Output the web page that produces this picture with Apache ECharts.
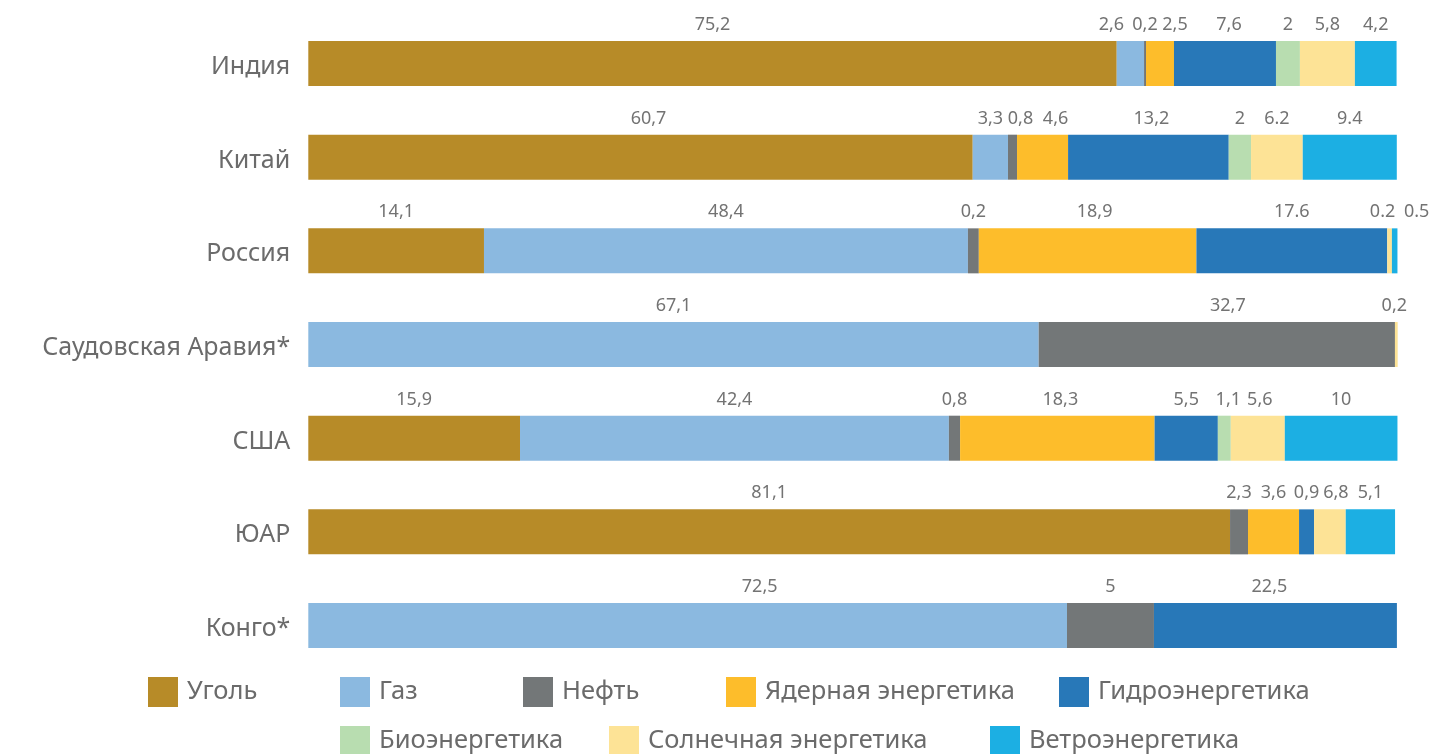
<!DOCTYPE html>
<html>
<head>
<meta charset="utf-8">
<script src="https://cdn.jsdelivr.net/npm/echarts@6/dist/echarts.min.js"></script>
<style>
html,body{margin:0;padding:0;background:#fff;}
#chart{width:1433px;height:754px;}
</style>
</head>
<body>
<div id="chart"></div>
<script>
// ---------- DATA ----------
const countries = ['Индия', 'Китай', 'Россия', 'Саудовская Аравия*', 'США', 'ЮАР', 'Конго*'];
const sources = ['Уголь', 'Газ', 'Нефть', 'Ядерная энергетика', 'Гидроэнергетика', 'Биоэнергетика', 'Солнечная энергетика', 'Ветроэнергетика'];

// bar lengths (share of the full bar, %)
const coal    = [74.27, 61.04, 16.14, null, 19.45, 84.68, null];
const gas     = [2.51, 3.24, 44.46, 67.10, 39.40, null, 69.70];
const oil     = [0.18, 0.83, 1.00, 32.73, 1.03, 1.65, 7.99];
const nuclear = [2.57, 4.69, 19.99, null, 17.87, 4.69, null];
const hydro   = [9.37, 14.76, 17.53, null, 5.81, 1.38, 22.32];
const bio     = [2.20, 2.05, null, null, 1.19, null, null];
const solar   = [5.05, 4.75, 0.43, 0.25, 4.96, 2.91, null];
const wind    = [3.83, 8.64, 0.51, null, 10.35, 4.53, null];

// printed value labels
const coalLbl    = ['75,2', '60,7', '14,1', null, '15,9', '81,1', null];
const gasLbl     = ['2,6', '3,3', '48,4', '67,1', '42,4', null, '72,5'];
const oilLbl     = ['0,2', '0,8', '0,2', '32,7', '0,8', '2,3', '5'];
const nuclearLbl = ['2,5', '4,6', '18,9', null, '18,3', '3,6', null];
const hydroLbl   = ['7,6', '13,2', '17.6', null, '5,5', '0,9', '22,5'];
const bioLbl     = ['2', '2', null, null, '1,1', null, null];
const solarLbl   = ['5,8', '6.2', '0.2', '0,2', '5,6', '6,8', null];
const windLbl    = ['4,2', '9.4', '0.5', null, '10', '5,1', null];

// ---------- STYLE ----------
const colors = ['#B78B28', '#8BB9E0', '#737778', '#FDBD2B', '#2878B8', '#B8DDB0', '#FDE396', '#1CAFE3'];
// horizontal nudges of crowded labels (px), per series then per country
const labelShift = [
  [0, 8, 0, 0, 0, 0, 0],
  [-19, 0, 0, 0, 0, 0, 72],
  [0, 8, 0, 11, 0, 0, 0],
  [15, 13, 7, 0, 3, 0, 0],
  [4, 3, 0, 0, 0, 0, -6],
  [0, 0, 0, 0, 4, 0, 0],
  [0, 0, -7, -2, 2, 6, 0],
  [0, 0, 22, 0, 0, 0, 0]
];
const legendPos = [
  [148, 692], [340, 692], [523, 692], [726, 692], [1059, 692],
  [340, 741], [609, 741], [990, 741]
];

const values = [coal, gas, oil, nuclear, hydro, bio, solar, wind];
const labels = [coalLbl, gasLbl, oilLbl, nuclearLbl, hydroLbl, bioLbl, solarLbl, windLbl];

const FONT = '"Noto Sans", sans-serif';
const TEXT = '#6b6b6b';

const series = sources.map((name, si) => ({
  name: name,
  type: 'bar',
  stack: 'total',
  barWidth: 45,
  clip: false,
  itemStyle: { color: colors[si] },
  emphasis: { disabled: true },
  label: {
    show: true,
    position: 'top',
    distance: 7,
    fontFamily: FONT,
    fontSize: 18,
    color: '#737373',
    formatter: p => labels[si][p.dataIndex] || ''
  },
  data: values[si].map((v, ci) => ({
    value: v == null ? '-' : v,
    label: { offset: [labelShift[si][ci], 0] }
  }))
}));

const legends = sources.map((name, si) => ({
  data: [name],
  left: legendPos[si][0],
  top: legendPos[si][1] - 15,
  padding: 0,
  itemWidth: 30,
  itemHeight: 30,
  icon: 'rect',
  selectedMode: false,
  textStyle: { fontFamily: FONT, fontSize: 25.5, color: TEXT, padding: [0, 0, 0, 4] }
}));

const chart = echarts.init(document.getElementById('chart'), null, { renderer: 'canvas' });
chart.setOption({
  animation: false,
  color: colors,
  legend: legends,
  grid: { left: 308.3, width: 1088.5, top: 16.67, height: 655.7 },
  xAxis: { type: 'value', min: 0, max: 100, show: false },
  yAxis: {
    type: 'category',
    data: countries,
    inverse: true,
    axisLine: { show: false },
    axisTick: { show: false },
    axisLabel: {
      fontFamily: FONT, fontSize: 25, color: TEXT, margin: 18,
      verticalAlign: 'top', lineHeight: 7
    }
  },
  series: series
});
</script>
</body>
</html>
